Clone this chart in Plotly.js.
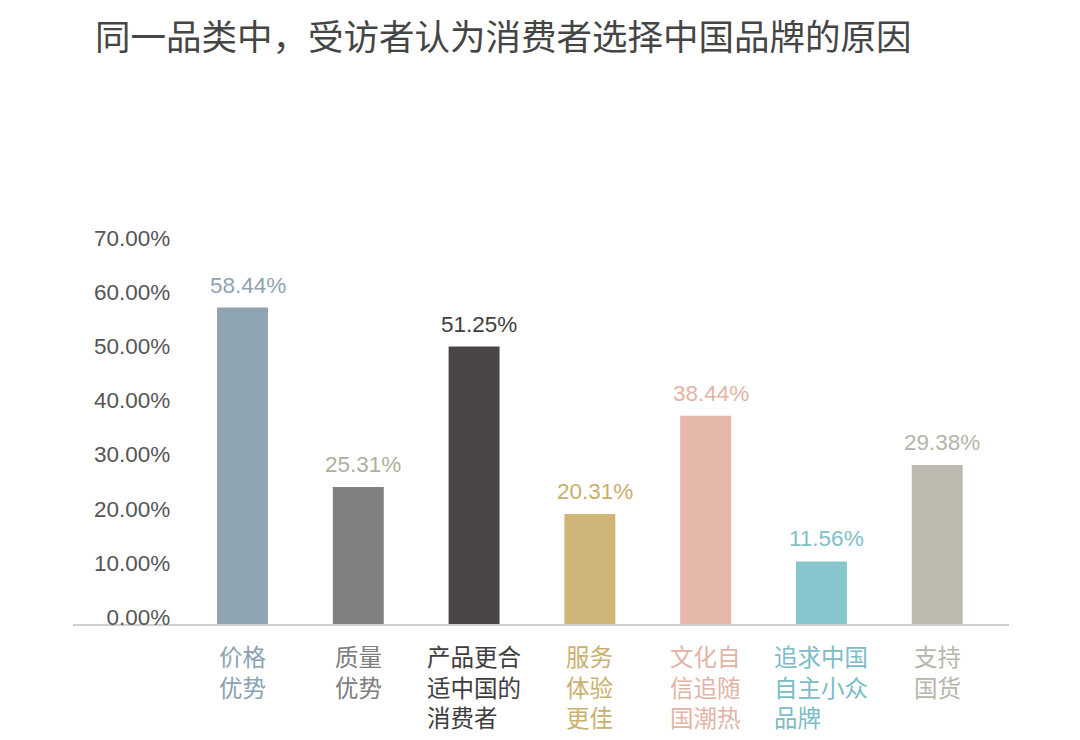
<!DOCTYPE html>
<html>
<head>
<meta charset="utf-8">
<script src="https://cdn.plot.ly/plotly-3.0.1.min.js"></script>
<style>html,body{margin:0;padding:0;background:#fff;}#chart{width:1080px;height:740px;}</style>
</head>
<body>
<div id="chart"></div>
<script>
var categories = ["价格优势", "质量优势", "产品更合适中国的消费者", "服务体验更佳", "文化自信追随国潮热", "追求中国自主小众品牌", "支持国货"];
var categoryLines = ["价格<br>优势", "质量<br>优势", "产品更合<br>适中国的<br>消费者", "服务<br>体验<br>更佳", "文化自<br>信追随<br>国潮热", "追求中国<br>自主小众<br>品牌", "支持<br>国货"];
var values = [58.44, 25.31, 51.25, 20.31, 38.44, 11.56, 29.38];
var barColors = ["#8ea4b2", "#817f80", "#4a4645", "#cfb577", "#e6b8aa", "#87c6cd", "#bdbbaf"];
var valueLabelColors = ["#8fa4b1", "#b0ae9c", "#3f3f3f", "#c9ae6e", "#e2b4a5", "#80c0c8", "#b6b4a9"];
var categoryLabelColors = ["#8aa2b2", "#7d7d7d", "#3d3d3d", "#cbb070", "#e3b4a5", "#7bbcc6", "#b8b6aa"];
var yTickVals = [0, 10, 20, 30, 40, 50, 60, 70];
var yTickText = ["0.00%", "10.00%", "20.00%", "30.00%", "40.00%", "50.00%", "60.00%", "70.00%"];

var trace = {
  type: "bar",
  x: categories,
  y: values,
  marker: {color: barColors},
  width: 0.44,
  hoverinfo: "none",
  cliponaxis: false
};

var annotations = [];
for (var i = 0; i < categories.length; i++) {
  annotations.push({
    x: categories[i], xref: "x", y: values[i], yref: "y",
    text: values[i].toFixed(2) + "%",
    showarrow: false, xanchor: "center", yanchor: "bottom", yshift: 8, xshift: 5,
    font: {family: "Liberation Sans, Arial, sans-serif", size: 22.5, color: valueLabelColors[i]}
  });
  annotations.push({
    x: categories[i], xref: "x", y: 0, yref: "y",
    text: categoryLines[i],
    showarrow: false, xanchor: "center", yanchor: "top", yshift: -13, align: "left",
    font: {family: "Noto Sans CJK SC, sans-serif", size: 23.5, color: categoryLabelColors[i]}
  });
}

var layout = {
  width: 1080, height: 740,
  paper_bgcolor: "#ffffff", plot_bgcolor: "#ffffff",
  margin: {l: 73, r: 71, t: 245, b: 116},
  showlegend: false,
  title: {
    text: "同一品类中，受访者认为消费者选择中国品牌的原因",
    x: 95 / 1080, xanchor: "left", xref: "container",
    y: 1 - 38 / 740, yanchor: "middle", yref: "container",
    font: {family: "Noto Sans CJK SC, sans-serif", size: 35.5, color: "#454545"}
  },
  xaxis: {
    type: "category",
    range: [-1.464, 6.62],
    showticklabels: false,
    showline: true, linecolor: "#cfcfcf", linewidth: 2,
    showgrid: false, zeroline: false, ticks: ""
  },
  yaxis: {
    range: [0, 70],
    anchor: "free", position: 0.104,
    tickvals: yTickVals, ticktext: yTickText,
    showgrid: false, zeroline: false, showline: false, ticks: "",
    ticklabelshift: -7,
    tickfont: {family: "Liberation Sans, Arial, sans-serif", size: 22.5, color: "#555555"}
  },
  annotations: annotations,
  bargap: 0.56
};

Plotly.newPlot("chart", [trace], layout, {displayModeBar: false, staticPlot: true});
</script>
</body>
</html>
